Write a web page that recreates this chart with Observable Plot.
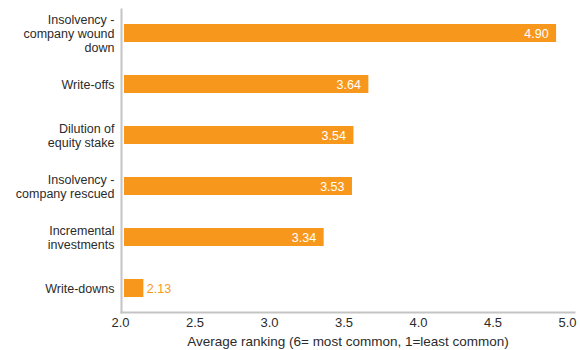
<!DOCTYPE html>
<html>
<head>
<meta charset="utf-8">
<script src="https://cdn.jsdelivr.net/npm/d3@7"></script>
<script src="https://cdn.jsdelivr.net/npm/@observablehq/plot@0.6"></script>
<style>
  html, body { margin: 0; padding: 0; background: #fff; }
</style>
</head>
<body>
<div id="chart"></div>
<script>
const categories = [
  "Insolvency -\ncompany wound\ndown",
  "Write-offs",
  "Dilution of\nequity stake",
  "Insolvency -\ncompany rescued",
  "Incremental\ninvestments",
  "Write-downs"
];
const values = [4.90, 3.64, 3.54, 3.53, 3.34, 2.13];
const xTicks = [2.0, 2.5, 3.0, 3.5, 4.0, 4.5, 5.0];
const xLabel = "Average ranking (6= most common, 1=least common)";

const orange = "#F7981D";
const axisGray = "#c4c4c4";
const textColor = "#2b2b2b";

const data = categories.map((c, i) => ({category: c, value: values[i]}));

const chart = Plot.plot({
  width: 580,
  height: 350,
  marginLeft: 124,
  marginRight: 9,
  marginTop: 9,
  marginBottom: 38,
  style: {fontFamily: "'Liberation Sans', Arial, sans-serif", fontSize: "12px", color: textColor, background: "#fff"},
  x: {domain: [2, 5]},
  y: {domain: categories, paddingInner: 0.65, paddingOuter: 0.272},
  marks: [
    Plot.barX(data, {x1: () => 2, x2: "value", y: "category", fill: orange}),
    Plot.frame({anchor: "left", stroke: axisGray, strokeWidth: 2, insetLeft: -3}),
    Plot.frame({anchor: "bottom", stroke: axisGray, strokeWidth: 2, insetLeft: -3, insetRight: -3}),
    Plot.axisX({
      ticks: xTicks, tickFormat: d => d.toFixed(1), tickSize: 0, tickPadding: 5, dx: -4,
      fontSize: 13, fill: textColor,
      label: xLabel, labelAnchor: "center", labelArrow: "none", labelOffset: 33
    }),
    Plot.axisY({tickSize: 0, tickPadding: 10, label: null, fontSize: 12.5, lineHeight: 1.15, fill: textColor}),
    Plot.text(data.filter(d => d.value >= 2.5), {
      x: "value", y: "category", text: d => d.value.toFixed(2),
      textAnchor: "end", dx: -8, fill: "white", fontSize: 12.5
    }),
    Plot.text(data.filter(d => d.value < 2.5), {
      x: "value", y: "category", text: d => d.value.toFixed(2),
      textAnchor: "start", dx: 3, fill: orange, fontSize: 12.5
    })
  ]
});
// axis title slightly larger than tick labels
const lbl = chart.querySelectorAll("g[aria-label='x-axis label'] text");
lbl.forEach(t => t.setAttribute("font-size", "13.5"));
document.getElementById("chart").appendChild(chart);
</script>
</body>
</html>
